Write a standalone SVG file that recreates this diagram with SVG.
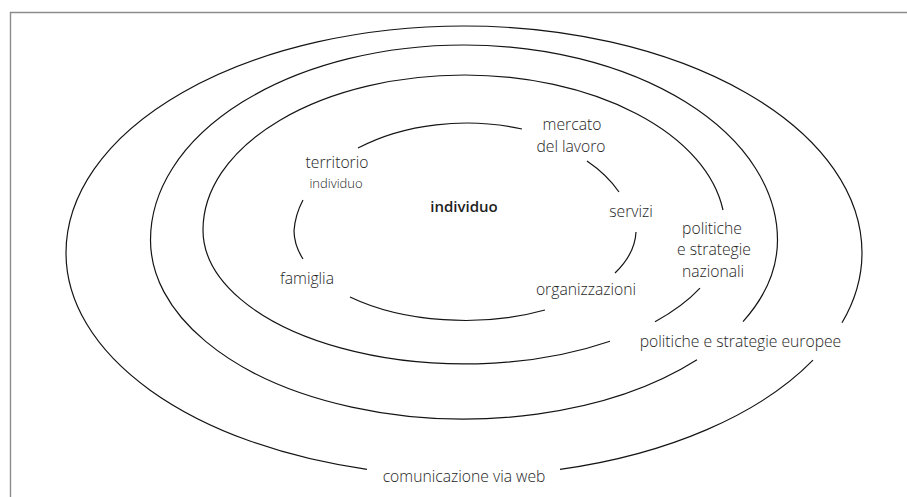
<svg xmlns="http://www.w3.org/2000/svg" width="907" height="497" viewBox="0 0 907 497">
<style>
.ring{fill:none;stroke:#141414;stroke-width:1.2}
.frame{fill:none;stroke:#8c8c8c;stroke-width:1.4}
text{font-family:"Open Sans","Noto Sans","Liberation Sans",sans-serif;font-size:15.7px;font-weight:300;fill:#1e1e1e;text-anchor:middle}
.small{font-size:13px}
.bold{font-size:15px;font-weight:600}
</style>
<rect width="907" height="497" fill="#ffffff"/>
<g id="frame">
<path class="frame" d="M10.5,497 V12.5 H907"/>
</g>
<g id="connectors">
<path id="ring-outer" class="ring" d="M813,360.2 A398,223 0 0,1 560,469.4 M367,469.3 A398,223 0 0,1 66,253 A398,227 0 0,1 464,26 A398,227 0 0,1 862,253 A398,223 0 0,1 842,322.8"/>
<path id="ring-2" class="ring" d="M697,359.8 A313.5,179 0 0,1 150.5,240 A313.5,195 0 0,1 464,45 A313.5,195 0 0,1 777.5,240 A313.5,179 0 0,1 743,321.6"/>
<path id="ring-3" class="ring" d="M700,288.2 A261.5,134 0 0,1 655,321.8 M610,341.3 A261.5,134 0 0,1 203,230 A261.5,155 0 0,1 464.5,75 A261.5,155 0 0,1 723,210"/>
<path id="ring-inner" class="ring" d="M358,148 A171,110 0 0,1 522,129 M587,161 A171,110 0 0,1 619,192 M636,232 A171,90 0 0,1 615,273 M545,310 A171,90 0 0,1 350,297 M303,259 A171,90 0 0,1 294,231 A171,110 0 0,1 303,200"/>
</g>
<g id="node-individuo"><text class="bold" x="464" y="212">individuo</text></g>
<g id="node-territorio"><text x="337" y="168">territorio</text><text class="small" x="336" y="188">individuo</text></g>
<g id="node-famiglia"><text x="307" y="284">famiglia</text></g>
<g id="node-mercato"><text x="572" y="130">mercato</text><text x="571" y="152">del lavoro</text></g>
<g id="node-servizi"><text x="631" y="217">servizi</text></g>
<g id="node-organizzazioni"><text x="586" y="295">organizzazioni</text></g>
<g id="node-nazionali"><text x="712" y="234">politiche</text><text x="714" y="255">e strategie</text><text x="713" y="277">nazionali</text></g>
<g id="node-europee"><text x="740.5" y="347">politiche e strategie europee</text></g>
<g id="node-web"><text x="464" y="482">comunicazione via web</text></g>
</svg>
